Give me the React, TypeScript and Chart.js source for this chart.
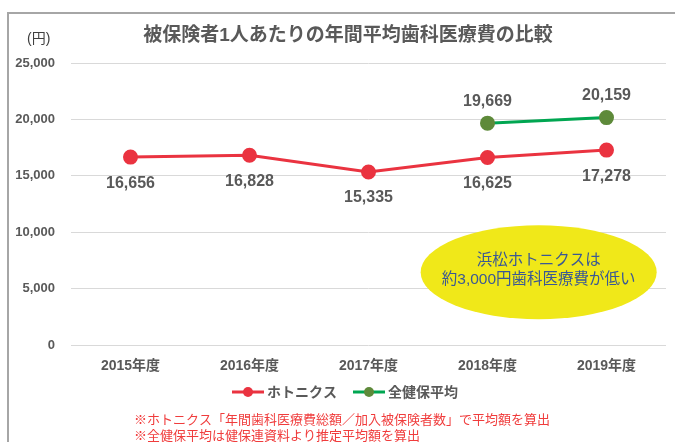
import React, { useEffect, useRef } from "react";
import { Chart, registerables } from "chart.js";

Chart.register(...registerables);

const categories = ["2015年度", "2016年度", "2017年度", "2018年度", "2019年度"];
const hotonicsValues = [16656, 16828, 15335, 16625, 17278];
const kenpoValues = [null, null, null, 19669, 20159];
const yTicks = [0, 5000, 10000, 15000, 20000, 25000];
const seriesNames = ["ホトニクス", "全健保平均"];
const titleText = "被保険者1人あたりの年間平均歯科医療費の比較";
const unitText = "(円)";
const calloutLines = ["浜松ホトニクスは", "約3,000円歯科医療費が低い"];
const footnotes = [
  "※ホトニクス「年間歯科医療費総額／加入被保険者数」で平均額を算出",
  "※全健保平均は健保連資料より推定平均額を算出",
];

const FONT = '"Liberation Sans", Arial, "Noto Sans CJK JP", sans-serif';
const RED = "#ea3340";
const GREEN_LINE = "#00a651";
const GREEN_POINT = "#5e8a3a";
const GRAY = "#595959";

const fmt = (v: number) => v.toLocaleString("en-US");

export default function App() {
  const ref = useRef<HTMLCanvasElement | null>(null);

  useEffect(() => {
    document.body.style.margin = "0";
    const canvas = ref.current!;
    const overlay = {
      id: "overlay",
      afterDatasetsDraw(chart: any) {
        const ctx = chart.ctx;
        const xs = chart.scales.x;
        const ys = chart.scales.y;
        // data labels
        ctx.save();
        ctx.font = `bold 16px ${FONT}`;
        ctx.fillStyle = GRAY;
        ctx.textAlign = "center";
        ctx.textBaseline = "middle";
        chart.data.datasets.forEach((ds: any, di: number) => {
          const meta = chart.getDatasetMeta(di);
          meta.data.forEach((pt: any, i: number) => {
            const v = ds.data[i];
            if (v == null) return;
            const dy = di === 0 ? 26 : -22;
            ctx.fillText(fmt(v), pt.x, pt.y + dy);
          });
        });
        ctx.restore();

        // callout ellipse
        const cx = xs.getPixelForValue(3.43);
        const cy = ys.getPixelForValue(6450);
        ctx.save();
        ctx.beginPath();
        ctx.ellipse(cx, cy, 118, 47, 0, 0, Math.PI * 2);
        ctx.fillStyle = "#f0e819";
        ctx.fill();
        ctx.font = `15.5px ${FONT}`;
        ctx.fillStyle = "#3a5894";
        ctx.textAlign = "center";
        ctx.textBaseline = "middle";
        ctx.fillText(calloutLines[0], cx, cy - 12);
        ctx.fillText(calloutLines[1], cx, cy + 7);
        ctx.restore();

        // title and unit
        ctx.save();
        ctx.font = `bold 19px ${FONT}`;
        ctx.fillStyle = GRAY;
        ctx.textAlign = "center";
        ctx.textBaseline = "middle";
        ctx.fillText(titleText, 348, 36);
        ctx.font = `14px ${FONT}`;
        ctx.fillStyle = "#404040";
        ctx.textAlign = "left";
        ctx.fillText(unitText, 27, 39);
        ctx.restore();

        // legend
        ctx.save();
        ctx.font = `bold 14px ${FONT}`;
        ctx.textBaseline = "middle";
        const ly = 392;
        const items = [
          { name: seriesNames[0], line: RED, point: RED },
          { name: seriesNames[1], line: GREEN_LINE, point: GREEN_POINT },
        ];
        const sw = 32;
        const gap = 3;
        const between = 16;
        let total = 0;
        items.forEach((it, i) => {
          total += sw + gap + ctx.measureText(it.name).width + (i < items.length - 1 ? between : 0);
        });
        let lx = 345 - total / 2;
        items.forEach((it) => {
          ctx.strokeStyle = it.line;
          ctx.lineWidth = 3;
          ctx.beginPath();
          ctx.moveTo(lx, ly);
          ctx.lineTo(lx + sw, ly);
          ctx.stroke();
          ctx.fillStyle = it.point;
          ctx.beginPath();
          ctx.arc(lx + sw / 2, ly, 5, 0, Math.PI * 2);
          ctx.fill();
          ctx.fillStyle = GRAY;
          ctx.textAlign = "left";
          ctx.fillText(it.name, lx + sw + gap, ly + 1);
          lx += sw + gap + ctx.measureText(it.name).width + between;
        });
        ctx.restore();

        // footnotes
        ctx.save();
        ctx.font = `13px ${FONT}`;
        ctx.fillStyle = "#f03c3c";
        ctx.textAlign = "left";
        ctx.textBaseline = "middle";
        footnotes.forEach((t, i) => ctx.fillText(t, 134, 420 + i * 16.5));
        ctx.restore();
      },
    };

    const chart = new Chart(canvas, {
      type: "line",
      data: {
        labels: categories,
        datasets: [
          {
            label: seriesNames[0],
            data: hotonicsValues,
            borderColor: RED,
            backgroundColor: RED,
            pointBackgroundColor: RED,
            pointBorderColor: RED,
            borderWidth: 3,
            pointRadius: 6,
            tension: 0,
          },
          {
            label: seriesNames[1],
            data: kenpoValues as any,
            borderColor: GREEN_LINE,
            backgroundColor: GREEN_POINT,
            pointBackgroundColor: GREEN_POINT,
            pointBorderColor: GREEN_POINT,
            borderWidth: 3,
            pointRadius: 6,
            tension: 0,
          },
        ],
      },
      options: {
        animation: false,
        responsive: false,
        maintainAspectRatio: false,
        devicePixelRatio: 1,
        layout: { padding: { left: 0, right: 7, top: 63, bottom: 0 } },
        plugins: {
          legend: { display: false },
          title: { display: false },
          tooltip: { enabled: false },
        },
        scales: {
          x: {
            type: "category",
            offset: true,
            grid: { display: false, drawTicks: false },
            border: { display: false },
            ticks: {
              color: GRAY,
              font: { family: FONT, size: 14, weight: "bold" },
              padding: 13,
              maxRotation: 0,
            },
            afterFit: (s: any) => {
              s.height = 97;
            },
          },
          y: {
            min: 0,
            max: 25000,
            afterBuildTicks: (s: any) => {
              s.ticks = yTicks.map((v) => ({ value: v }));
            },
            grid: { color: "#d9d9d9", lineWidth: 1, drawTicks: false },
            border: { display: false },
            ticks: {
              color: GRAY,
              font: { family: FONT, size: 13, weight: "bold" },
              padding: 16,
              callback: (v: any) => fmt(Number(v)),
            },
            afterFit: (s: any) => {
              s.width = 71;
            },
          },
        },
      },
      plugins: [overlay],
    });
    return () => chart.destroy();
  }, []);

  return (
    <div style={{ position: "relative", width: 675, height: 442, overflow: "hidden", background: "#fff" }}>
      <div
        style={{
          position: "absolute",
          left: 7,
          top: 12,
          width: 700,
          height: 460,
          borderLeft: "2px solid #a6a6a6",
          borderTop: "2px solid #a6a6a6",
        }}
      />
      <canvas ref={ref} width={675} height={442} style={{ position: "absolute", left: 0, top: 0 }} />
    </div>
  );
}
